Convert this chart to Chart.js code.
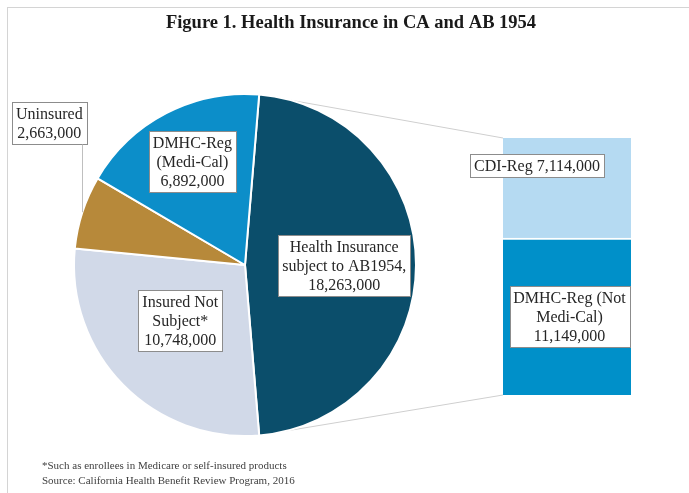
<!DOCTYPE html>
<html><head><meta charset="utf-8">
<script src="https://cdn.jsdelivr.net/npm/chart.js@4.4.1/dist/chart.umd.min.js"></script>
<style>
html,body{margin:0;padding:0;background:#fff;}
#page{position:relative;width:689px;height:493px;overflow:hidden;background:#fff;}
#frame{position:absolute;left:7px;top:7px;right:-10px;bottom:-10px;border-top:1px solid #d4d4d4;border-left:1px solid #d4d4d4;}
#barBox{position:absolute;left:503px;top:138px;width:128px;height:257px;z-index:1;}
#pieBox{position:absolute;left:0;top:0;width:689px;height:493px;z-index:2;pointer-events:none;}
</style></head><body>
<div id="page">
<div id="frame"></div>
<div id="barBox"><canvas id="bar"></canvas></div>
<div id="pieBox"><canvas id="pie"></canvas></div>
</div>
<script>
// ---- data ----
const pieCategories = ['Health Insurance subject to AB1954', 'Insured Not Subject*', 'Uninsured', 'DMHC-Reg (Medi-Cal)'];
const pieValues = [18263000, 10748000, 2663000, 6892000];
const pieLabelLines = [['Health Insurance', 'subject to AB1954,'], ['Insured Not', 'Subject*'], ['Uninsured'], ['DMHC-Reg', '(Medi-Cal)']];
const barCategories = ['DMHC-Reg (Not Medi-Cal)', 'CDI-Reg'];
const barValues = [11149000, 7114000];
const barLabelLines = [['DMHC-Reg (Not', 'Medi-Cal)'], ['CDI-Reg']];
const titleText = 'Figure 1. Health Insurance in CA and AB 1954';
const footnotes = ['*Such as enrollees in Medicare or self-insured products', 'Source: California Health Benefit Review Program, 2016'];

// ---- styles / layout ----
const pieColors = ['#0b4e6b', '#d1d9e8', '#b7893a', '#0c8ec9'];
const barColors = ['#0090c9', '#b5daf2'];
const FONT = '"Liberation Serif", "DejaVu Serif", serif';
const fmt = v => v.toLocaleString('en-US');

const pieLabelPos = [
  {frac: 0.58, dAng: 0},
  {frac: 0.5, dAng: 3.75},
  {leader: true, dx: -33, dy: -89},
  {frac: 0.68, dAng: 0.5}
];
const barLabelPos = [
  {dx: 2.5, fy: 0.5, inline: false},
  {dx: -30, fy: 0.275, inline: true}
];

function drawBox(ctx, cx, cy, lines) {
  const fs = 16, lh = 19, padX = 4, padY = 2;
  ctx.save();
  ctx.font = fs + 'px ' + FONT;
  let w = 0;
  lines.forEach(l => { w = Math.max(w, ctx.measureText(l).width); });
  const bw = Math.round(w + padX * 2), bh = lines.length * lh + padY * 2;
  const x0 = Math.round(cx - bw / 2) + 0.5, y0 = Math.round(cy - bh / 2) + 0.5;
  ctx.fillStyle = '#ffffff';
  ctx.fillRect(x0, y0, bw, bh);
  ctx.strokeStyle = '#8c8c8c';
  ctx.lineWidth = 1;
  ctx.strokeRect(x0, y0, bw, bh);
  ctx.fillStyle = '#262626';
  ctx.textAlign = 'center';
  ctx.textBaseline = 'middle';
  lines.forEach((l, i) => {
    ctx.fillText(l, cx, y0 + padY + lh * i + lh / 2 + 1);
  });
  ctx.restore();
  return {x0, y0, bw, bh};
}

const total = barValues.reduce((a, b) => a + b, 0);

const barChart = new Chart(document.getElementById('bar'), {
  type: 'bar',
  data: {
    labels: ['AB1954'],
    datasets: barCategories.map((c, i) => ({
      label: c,
      data: [barValues[i]],
      backgroundColor: barColors[i],
      borderColor: '#ffffff',
      borderWidth: i === 0 ? {top: 2, left: 0, right: 0, bottom: 0} : 0,
      borderSkipped: false,
      categoryPercentage: 1,
      barPercentage: 1
    }))
  },
  options: {
    responsive: true, maintainAspectRatio: false, animation: false,
    layout: {padding: 0},
    plugins: {legend: {display: false}, tooltip: {enabled: false}, title: {display: false}},
    scales: {
      x: {display: false, stacked: true},
      y: {display: false, stacked: true, min: 0, max: total}
    }
  }
});

const pieShare = pieValues[0] / pieValues.reduce((a, b) => a + b, 0);

const overlayPlugin = {
  id: 'overlay',
  beforeDatasetsDraw(chart) {
    const ctx = chart.ctx;
    const arc = chart.getDatasetMeta(0).data[0];
    const pr = chart.canvas.getBoundingClientRect();
    const br = barChart.canvas.getBoundingClientRect();
    const ox = br.left - pr.left, oy = br.top - pr.top;
    const bMeta0 = barChart.getDatasetMeta(0).data[0];
    const bMeta1 = barChart.getDatasetMeta(1).data[0];
    const left = ox + bMeta0.x - bMeta0.width / 2;
    const top = oy + bMeta1.y, bottom = oy + bMeta0.base;
    const R = arc.outerRadius;
    ctx.save();
    ctx.strokeStyle = '#cfcfcf';
    ctx.lineWidth = 1;
    ctx.beginPath();
    ctx.moveTo(arc.x + Math.cos(arc.startAngle) * R, arc.y + Math.sin(arc.startAngle) * R);
    ctx.lineTo(left, top);
    ctx.moveTo(arc.x + Math.cos(arc.endAngle) * R, arc.y + Math.sin(arc.endAngle) * R);
    ctx.lineTo(left, bottom);
    ctx.stroke();
    ctx.restore();
  },
  afterDraw(chart) {
    const ctx = chart.ctx;
    // title
    ctx.save();
    ctx.fillStyle = '#1a1a1a';
    ctx.font = 'bold 18.5px ' + FONT;
    ctx.textAlign = 'center';
    ctx.textBaseline = 'middle';
    ctx.fillText(titleText, 351, 23);
    // footnotes
    ctx.font = '11px ' + FONT;
    ctx.fillStyle = '#404040';
    ctx.textAlign = 'left';
    footnotes.forEach((f, i) => ctx.fillText(f, 42, 466 + i * 15));
    ctx.restore();

    // pie labels
    const meta = chart.getDatasetMeta(0);
    meta.data.forEach((a, i) => {
      const lines = pieLabelLines[i].concat([fmt(pieValues[i])]);
      const p = pieLabelPos[i];
      const mid = (a.startAngle + a.endAngle) / 2;
      if (p.leader) {
        const ax = a.x + Math.cos(mid) * a.outerRadius;
        const ay = a.y + Math.sin(mid) * a.outerRadius;
        const cx = ax + p.dx, cy = ay + p.dy;
        const box = drawBox(ctx, cx, cy, lines);
        ctx.save();
        ctx.strokeStyle = '#bfbfbf';
        ctx.lineWidth = 1;
        ctx.beginPath();
        ctx.moveTo(Math.round(ax) + 0.5, ay);
        ctx.lineTo(Math.round(ax) + 0.5, box.y0 + box.bh);
        ctx.stroke();
        ctx.restore();
      } else {
        const ang = mid + p.dAng * Math.PI / 180;
        const r = a.outerRadius * p.frac;
        drawBox(ctx, a.x + Math.cos(ang) * r, a.y + Math.sin(ang) * r, lines);
      }
    });

    // bar labels
    const pr = chart.canvas.getBoundingClientRect();
    const br = barChart.canvas.getBoundingClientRect();
    const ox = br.left - pr.left, oy = br.top - pr.top;
    barCategories.forEach((c, i) => {
      const el = barChart.getDatasetMeta(i).data[0];
      const p = barLabelPos[i];
      const segTop = oy + el.y, segBot = oy + el.base;
      const lines = p.inline ? [barLabelLines[i].join(' ') + ' ' + fmt(barValues[i])]
                             : barLabelLines[i].concat([fmt(barValues[i])]);
      drawBox(ctx, ox + el.x + p.dx, segTop + (segBot - segTop) * p.fy, lines);
    });
  }
};

new Chart(document.getElementById('pie'), {
  type: 'pie',
  data: {
    labels: pieCategories,
    datasets: [{
      data: pieValues,
      backgroundColor: pieColors,
      borderColor: '#ffffff',
      borderWidth: 2
    }]
  },
  options: {
    responsive: true, maintainAspectRatio: false, animation: false,
    rotation: 90 - 180 * pieShare,
    layout: {padding: {left: 73, top: 93, right: 272, bottom: 56}},
    plugins: {legend: {display: false}, tooltip: {enabled: false}, title: {display: false}}
  },
  plugins: [overlayPlugin]
});
</script>
</body></html>
